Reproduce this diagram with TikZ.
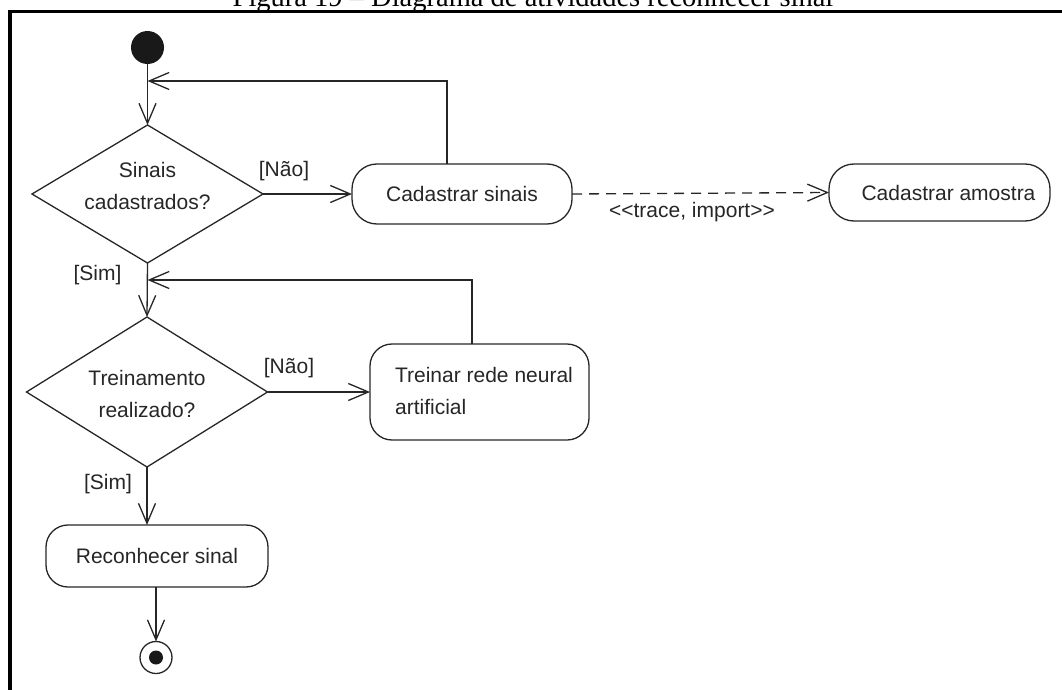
\documentclass[tikz,border=0pt]{standalone}
\usepackage{fontspec}
\setmainfont{Liberation Sans}
\newfontfamily\capfont{Liberation Serif}
\usetikzlibrary{arrows.meta,shapes.geometric}
\begin{document}
\begin{tikzpicture}[x=1pt,y=-1pt,
  every node/.style={font=\fontsize{21}{32}\selectfont, text=black!85, inner sep=0pt, outer sep=0pt},
  ln/.style={line width=1.3pt, draw=black!85},
  arr/.style={ln, -{Straight Barb[length=20pt,width=17pt,line width=1.3pt]}},
  act/.style={ln, rectangle, rounded corners=22pt},
  dec/.style={ln, diamond},
]
\useasboundingbox (0,0) rectangle (1062,690);
% frame and caption
\draw[line width=3.5pt, line join=miter] (1075,11.5) -- (10,11.5) -- (10,705);
\node[font=\capfont\fontsize{28.5}{30}\selectfont, anchor=base, text=black] (title) at (533,7) {Figura 19 – Diagrama de atividades reconhecer sinal};

% nodes
\node[circle, fill=black!90, minimum size=33pt] (init) at (147.5,47.5) {};
\node[dec, minimum width=231pt, minimum height=138pt] (d1) at (147.5,194) {};
\node[align=center] (d1t) at (147.5,186) {Sinais\\cadastrados?};
\node[act, rounded corners=25pt, minimum width=220pt, minimum height=60pt] (sinais) at (462,194) {Cadastrar sinais};
\node[act, rounded corners=25pt, minimum width=221pt, minimum height=57pt] (amostra) at (939.5,192.5) {\hspace*{18pt}Cadastrar amostra};
\node[dec, minimum width=241pt, minimum height=150pt] (d2) at (147,392) {};
\node[align=center] (d2t) at (147,393.5) {Treinamento\\realizado?};
\node[act, minimum width=219pt, minimum height=96pt] (treinar) at (479.5,392)
  {\begin{tabular}{@{\hspace{9pt}}l@{}}Treinar rede neural\\artificial\end{tabular}};
\node[act, minimum width=222pt, minimum height=62pt] (rec) at (157,556) {Reconhecer sinal};
\node[circle, ln, minimum size=32pt] (fin) at (156,657.5) {};
\node[circle, fill=black!90, minimum size=14pt] (finin) at (fin) {};

\coordinate (m1) at (147.5,81);
\coordinate (m2) at (147.5,280);

% connectors
\draw[arr] (init.south) -- (d1.north);
\draw[arr] ([xshift=-15pt]sinais.north) |- (m1);
\draw[arr] (d1.east) -- (sinais.west);
\draw[arr, dash pattern=on 10pt off 7pt] (sinais.east) -- (amostra.west);
\draw[arr] (d1.south) -- (d2.north);
\draw[arr] ([xshift=-7.5pt]treinar.north) |- (m2);
\draw[arr] (d2.east) -- (treinar.west);
\draw[arr] (d2.south) -- (d2.south |- rec.north);
\draw[arr] (rec.south -| fin.north) -- (fin.north);

% labels
\node (nao1) at (284,171) {[Não]};
\node (nao2) at (289,368) {[Não]};
\node (sim1) at (97.5,275) {[Sim]};
\node (sim2) at (108,484) {[Sim]};
\node (trace) at (692,212) {<{}<trace, import>{}>};
\end{tikzpicture}
\end{document}
